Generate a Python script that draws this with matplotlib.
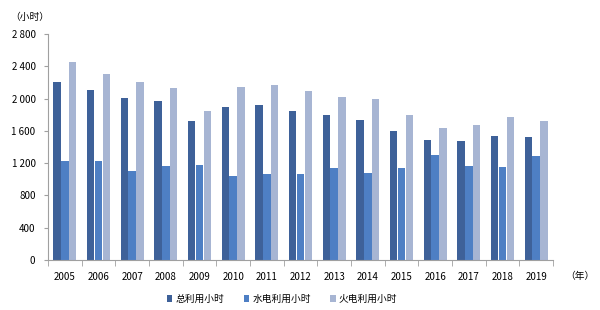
import matplotlib
matplotlib.use("Agg")
import matplotlib.pyplot as plt
import numpy as np

plt.rcParams['font.family'] = ['Noto Sans CJK SC', 'DejaVu Sans']

years = ['2005', '2006', '2007', '2008', '2009', '2010', '2011', '2012',
         '2013', '2014', '2015', '2016', '2017', '2018', '2019']
total = [2200, 2110, 2010, 1970, 1720, 1900, 1920, 1850, 1800, 1730, 1600, 1490, 1480, 1540, 1520]
hydro = [1230, 1230, 1100, 1170, 1180, 1040, 1070, 1060, 1140, 1080, 1140, 1300, 1160, 1150, 1290]
thermal = [2450, 2310, 2200, 2130, 1840, 2140, 2170, 2100, 2020, 2000, 1800, 1630, 1670, 1770, 1720]
series_names = ['总利用小时', '水电利用小时', '火电利用小时']
colors = ['#3e6199', '#4e7fc4', '#a7b5d3']
yticks = [0, 400, 800, 1200, 1600, 2000, 2400, 2800]
ytick_labels = ['0', '400', '800', '1 200', '1 600', '2 000', '2 400', '2 800']

fig = plt.figure(figsize=(6.0, 3.1), dpi=100)
ax = fig.add_axes([48/600, 1 - 260/310, 505/600, 226/310])

x = np.arange(len(years))
w = 0.22
for i, (vals, name, c) in enumerate(zip([total, hydro, thermal], series_names, colors)):
    ax.bar(x + (i - 1) * (w + 0.01), vals, width=w, color=c, label=name, zorder=2)

ax.set_xlim(-0.5, len(years) - 0.5)
ax.set_ylim(0, 2800)
ax.set_yticks(yticks)
ax.set_yticklabels(ytick_labels, fontsize=7)
ax.set_xticks(x)
ax.set_xticklabels(years, fontsize=7)
ax.tick_params(axis='x', length=0, pad=9)
ax.set_xticks(np.arange(-0.5, len(years), 1), minor=True)
ax.tick_params(axis='x', which='minor', length=4, direction='out', color='#a0a0a0')
ax.tick_params(axis='y', length=3, direction='out', color='#a0a0a0', pad=6)

for s in ['top', 'right']:
    ax.spines[s].set_visible(False)
for s in ['left', 'bottom']:
    ax.spines[s].set_color('#a0a0a0')
    ax.spines[s].set_linewidth(0.8)

fig.text(10/600, 1 - 17/310, '（小时）', fontsize=7, va='center', ha='left')
fig.text(565/600, 1 - 276/310, '（年）', fontsize=7, va='center', ha='left')

leg = fig.legend(loc='center', bbox_to_anchor=(0.47, 1 - 299/310), ncol=3, frameon=False,
                 fontsize=7, handlelength=0.6, handleheight=0.6, handletextpad=0.3,
                 columnspacing=2.0)

fig.savefig('out.png', dpi=100)
